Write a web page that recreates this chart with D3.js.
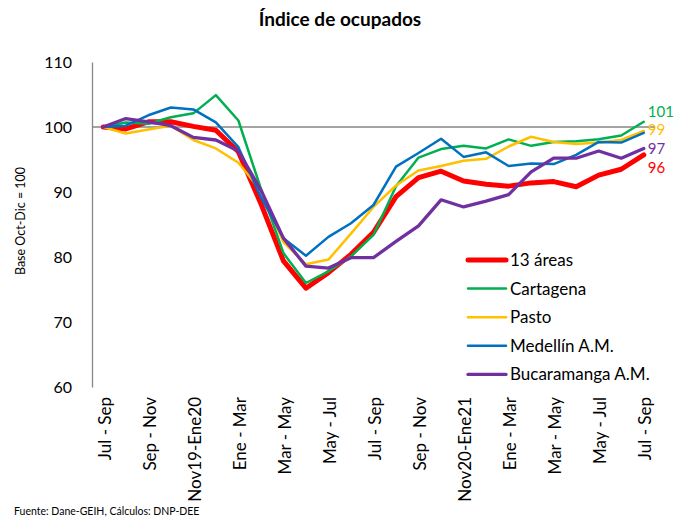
<!DOCTYPE html>
<html lang="es">
<meta charset="utf-8">
<head>
  <script src="https://d3js.org/d3.v7.min.js"></script>
  <style>
    body { margin: 0; background: #fff; }
    text { font-family: Lato, "Open Sans", sans-serif; fill: #000; }
  </style>
</head>
<body>
  <div id="my_dataviz"></div>
  <script>
    // periods (rolling quarters), only every other one gets a label
    var periods = ["Jul-Sep 19", "Ago-Oct 19", "Sep-Nov 19", "Oct-Dic 19", "Nov19-Ene20", "Dic-Feb 20",
      "Ene-Mar 20", "Feb-Abr 20", "Mar-May 20", "Abr-Jun 20", "May-Jul 20", "Jun-Ago 20", "Jul-Sep 20",
      "Ago-Oct 20", "Sep-Nov 20", "Oct-Dic 20", "Nov20-Ene21", "Dic-Feb 21", "Ene-Mar 21", "Feb-Abr 21",
      "Mar-May 21", "Abr-Jun 21", "May-Jul 21", "Jun-Ago 21", "Jul-Sep 21"];
    var tickLabels = ["Jul - Sep", "Sep - Nov", "Nov19-Ene20", "Ene - Mar", "Mar - May", "May - Jul", "Jul - Sep",
      "Sep - Nov", "Nov20-Ene21", "Ene - Mar", "Mar - May", "May - Jul", "Jul - Sep"];
    var yTicks = [60, 70, 80, 90, 100, 110];

    var areas13 = [100, 99.7, 100.8, 100.8, 100.1, 99.5, 96.2, 88.2, 79.4, 75.2, 77.6, 80.4, 83.8, 89.3, 92.2, 93.2, 91.7, 91.2, 90.9, 91.4, 91.6, 90.8, 92.6, 93.5, 95.7];
    var cartagena = [100, 100.7, 100.5, 101.5, 102.1, 104.9, 101, 90.5, 80.6, 76, 77.8, 80.1, 83.4, 90.9, 95.3, 96.6, 97.1, 96.7, 98.1, 97.1, 97.7, 97.8, 98.1, 98.7, 100.8];
    var pasto = [100, 99, 99.6, 100.2, 98, 96.7, 94.5, 90.2, 82.3, 78.9, 79.6, 83.6, 87.7, 91, 93.3, 94, 94.8, 95.1, 97, 98.5, 97.7, 97.4, 97.6, 98, 99.4];
    var medellin = [100, 100.2, 101.8, 103, 102.7, 100.7, 96.9, 89.2, 82.9, 80.2, 83.1, 85.2, 88, 93.9, 96, 98.2, 95.4, 96.1, 94, 94.4, 94.3, 95.7, 97.7, 97.6, 99.1];
    var bucaramanga = [100, 101.3, 100.8, 100.2, 98.4, 98, 96.3, 90.3, 82.9, 78.6, 78.3, 79.9, 79.9, 82.4, 84.8, 88.8, 87.7, 88.6, 89.6, 93.1, 95.2, 95.2, 96.3, 95.2, 96.7];

    var seriesNames = ["13 áreas", "Cartagena", "Pasto", "Medellín A.M.", "Bucaramanga A.M."];
    var seriesValues = [areas13, cartagena, pasto, medellin, bucaramanga];
    var colors = ["#ff0000", "#00b050", "#ffc000", "#0070c0", "#7030a0"];
    var widths = [5, 2.5, 2.5, 2.5, 3.3];
    // vertical nudge of the end label; null = no label (Medellín has none)
    var endLabelShift = [13, -10.5, -1, null, 0.5];

    var W = 684, H = 520;
    var svg = d3.select("#my_dataviz")
      .append("svg")
      .attr("width", W)
      .attr("height", H);

    var x = d3.scalePoint()
      .domain(d3.range(periods.length))
      .range([92, 655])
      .padding(0.5);

    var y = d3.scaleLinear()
      .domain([60, 110])
      .range([387, 62]);

    // title
    svg.append("text")
      .attr("x", 340).attr("y", 26)
      .attr("text-anchor", "middle")
      .style("font-size", "19px").style("font-weight", "bold")
      .text("Índice de ocupados");

    // y axis
    var yAxis = svg.append("g")
      .attr("transform", "translate(92,0)")
      .call(d3.axisLeft(y).tickValues(yTicks).tickSize(0).tickPadding(20).tickSizeOuter(0));
    yAxis.select(".domain").attr("stroke", "#868686").attr("stroke-width", 1.3);
    yAxis.selectAll("text").style("font-size", "16px").style("font-family", "Lato, sans-serif").attr("fill", "#000");

    svg.append("text")
      .attr("transform", "translate(25,221)rotate(-90)")
      .attr("text-anchor", "middle")
      .style("font-size", "12.5px")
      .text("Base Oct-Dic = 100");

    // x labels at the bottom, x axis line crosses at 100
    var xAxis = svg.append("g")
      .attr("transform", "translate(0," + y(60) + ")")
      .call(d3.axisBottom(x)
        .tickValues(d3.range(0, periods.length, 2))
        .tickFormat(function (d) { return tickLabels[d / 2]; })
        .tickSize(0));
    xAxis.select(".domain").remove();
    xAxis.selectAll("text")
      .attr("transform", "rotate(-90)")
      .attr("text-anchor", "end")
      .attr("x", -10).attr("y", 1).attr("dy", "0.35em")
      .style("font-size", "17px").style("font-family", "Lato, sans-serif").attr("fill", "#000");

    svg.append("line")
      .attr("x1", x.range()[0]).attr("x2", x.range()[1])
      .attr("y1", y(100)).attr("y2", y(100))
      .attr("stroke", "#868686").attr("stroke-width", 1.3);

    // lines
    var line = d3.line()
      .x(function (d, i) { return x(i); })
      .y(function (d) { return y(d); });

    seriesValues.forEach(function (vals, k) {
      svg.append("path")
        .datum(vals)
        .attr("fill", "none")
        .attr("stroke", colors[k])
        .attr("stroke-width", widths[k])
        .attr("stroke-linejoin", "round")
        .attr("stroke-linecap", "round")
        .attr("d", line);

      if (endLabelShift[k] === null) return;
      var last = vals.length - 1;
      svg.append("text")
        .attr("x", x(last) + 4)
        .attr("y", y(vals[last]) + endLabelShift[k])
        .attr("dy", "0.35em")
        .style("fill", colors[k])
        .style("font-size", "15px")
        .text(Math.round(vals[last]));
    });

    // legend
    var legend = svg.append("g").attr("transform", "translate(468,260)");
    seriesNames.forEach(function (name, k) {
      var g = legend.append("g").attr("transform", "translate(0," + (k * 28.6) + ")");
      g.append("line")
        .attr("x1", 0).attr("x2", 38)
        .attr("stroke", colors[k])
        .attr("stroke-width", widths[k])
        .attr("stroke-linecap", "round");
      g.append("text")
        .attr("x", 42).attr("dy", "0.35em")
        .style("font-size", "17px")
        .text(name);
    });

    // source
    svg.append("text")
      .attr("x", 14).attr("y", 515)
      .style("font-size", "10.5px")
      .text("Fuente: Dane-GEIH, Cálculos: DNP-DEE");
  </script>
</body>
</html>
